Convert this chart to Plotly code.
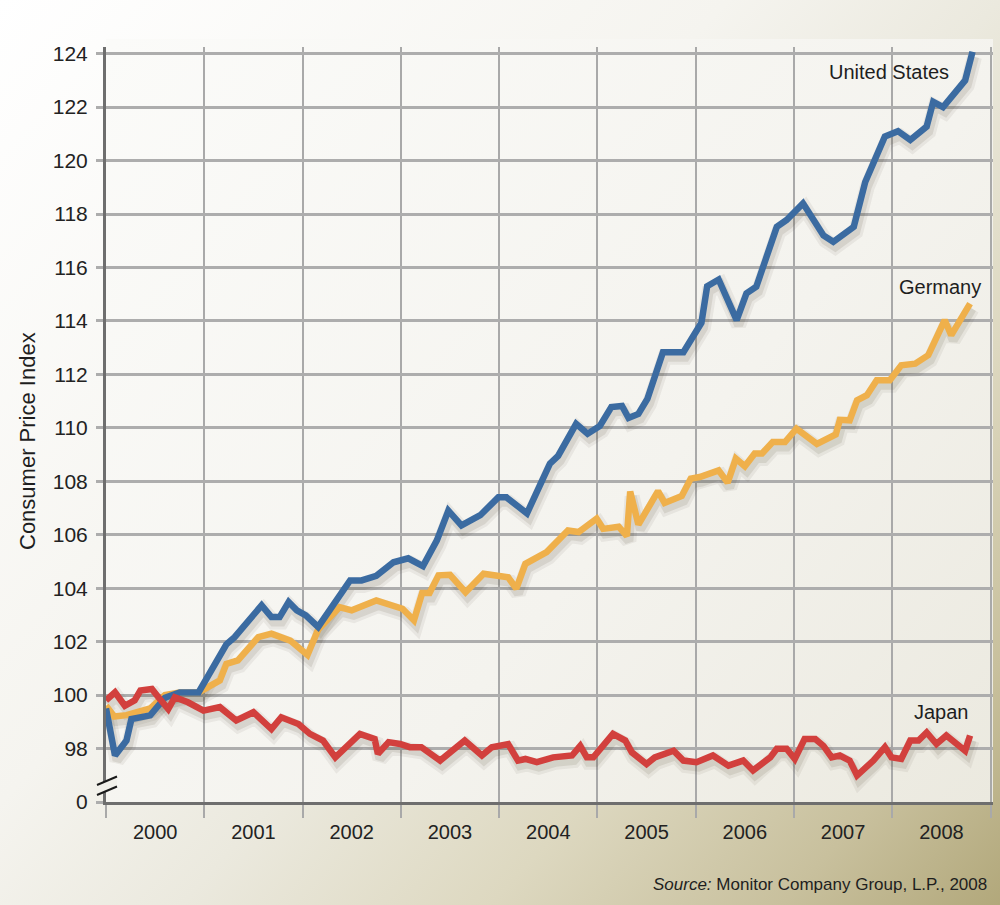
import base64
import plotly.graph_objects as go

# ---------------- data (month offsets from Jan 2000, index values) ----------------
us_month = [0, 1.1, 2.5, 3.1, 5.4, 7.2, 9, 11.3, 14.7, 15.7, 19, 20.2, 21.2, 22.3, 23.3, 24.4,
            25.9, 27.8, 29.8, 31.2, 33, 35.1, 36.9, 38.7, 40.4, 41.8, 43.4, 45.7, 47.9, 48.9,
            51.4, 54.2, 55.2, 57.4, 58.8, 60.3, 61.7, 63.0, 63.8, 65, 66.1, 68, 70.5, 72.7,
            73.4, 74.8, 77, 78.2, 79.4, 81.9, 83.1, 85.1, 87.6, 88.8, 91.3, 92.7, 95.1, 96.7,
            98.2, 100.2, 101, 102.2, 104.9, 105.8]
us_value = [99.5, 97.74, 98.3, 99.1, 99.24, 99.9, 100.1, 100.1, 101.9, 102.17, 103.36, 102.92,
            102.92, 103.48, 103.17, 102.98, 102.55, 103.4, 104.29, 104.29, 104.46, 104.97, 105.12,
            104.83, 105.79, 106.9, 106.35, 106.73, 107.4, 107.4, 106.8, 108.66, 108.95, 110.15,
            109.78, 110.07, 110.78, 110.82, 110.37, 110.52, 111.08, 112.83, 112.83, 113.93,
            115.3, 115.55, 114.03, 115.03, 115.28, 117.52, 117.78, 118.4, 117.2, 116.96, 117.52,
            119.2, 120.9, 121.1, 120.77, 121.27, 122.2, 122.0, 123.0, 124.07]

de_month = [0, 1, 2.5, 5.4, 7.2, 9, 11.3, 13.9, 14.7, 16.1, 18.6, 20.2, 22.5, 24.6, 25.9, 28.5,
            30, 33, 36.2, 37.6, 38.6, 39.5, 40.6, 42, 43.9, 46.1, 49.1, 50.1, 51.2, 53.8, 56.4,
            57.7, 59.9, 60.7, 62.6, 63.6, 64, 65, 67.4, 68.2, 70.3, 71.4, 72.5, 74.8, 75.9, 76.9,
            78, 79.2, 80.1, 81.4, 82.9, 84.3, 86.8, 89.1, 89.6, 90.8, 91.7, 92.9, 94.1, 95.7,
            97.1, 98.8, 100.4, 102.4, 103.2, 105.5]
de_value = [99.6, 99.2, 99.25, 99.5, 100.0, 100.1, 100.1, 100.55, 101.17, 101.3, 102.17, 102.3,
            102.04, 101.5, 102.45, 103.29, 103.17, 103.54, 103.23, 102.8, 103.82, 103.82, 104.48,
            104.5, 103.85, 104.54, 104.41, 103.98, 104.91, 105.35, 106.16, 106.1, 106.6, 106.22,
            106.3, 105.95, 107.62, 106.38, 107.63, 107.19, 107.45, 108.1, 108.16, 108.41, 107.95,
            108.85, 108.56, 109.04, 109.04, 109.47, 109.47, 109.97, 109.4, 109.75, 110.3, 110.28,
            111.03, 111.22, 111.78, 111.78, 112.34, 112.4, 112.72, 114.03, 113.47, 114.65]

jp_month = [0, 1.1, 2.3, 3.5, 4.2, 5.6, 6.4, 7.6, 8.4, 10, 11.9, 13.9, 15.9, 18, 20.2, 21.4,
            23.5, 24.9, 26.5, 28, 31, 32.8, 33.2, 34.5, 35.9, 37.1, 38.5, 40.8, 43.8, 45.9, 47.1,
            49.1, 50.3, 51.2, 52.6, 54.6, 56.9, 57.9, 58.7, 59.5, 61.9, 63.4, 64.2, 66, 67, 69.3,
            70.5, 72.1, 74.1, 76, 77.8, 79, 81.1, 81.9, 83.1, 84.1, 85.3, 86.6, 87.6, 88.6, 89.6,
            90.8, 91.7, 93.7, 95.1, 95.9, 97.1, 98.2, 99.2, 100.2, 101.4, 102.6, 104.9, 105.5]
jp_value = [99.8, 100.1, 99.6, 99.8, 100.17, 100.23, 99.92, 99.48, 99.92, 99.73, 99.42, 99.55,
            99.05, 99.36, 98.73, 99.17, 98.92, 98.55, 98.3, 97.67, 98.55, 98.36, 97.8, 98.24,
            98.17, 98.05, 98.05, 97.55, 98.3, 97.74, 98.05, 98.17, 97.55, 97.61, 97.49, 97.67,
            97.74, 98.1, 97.67, 97.67, 98.55, 98.3, 97.86, 97.42, 97.67, 97.92, 97.55, 97.49,
            97.74, 97.36, 97.55, 97.18, 97.67, 97.99, 97.99, 97.61, 98.36, 98.36, 98.1, 97.67,
            97.74, 97.55, 96.99, 97.55, 98.05, 97.67, 97.61, 98.3, 98.3, 98.6, 98.17, 98.49,
            97.92, 98.49]

year_labels = ["2000", "2001", "2002", "2003", "2004", "2005", "2006", "2007", "2008"]
year_label_pos = [6, 18, 30, 42, 54, 66, 78, 90, 102]
year_bounds = [0, 12, 24, 36, 48, 60, 72, 84, 96, 108]
y_tick_vals = [96, 98, 100, 102, 104, 106, 108, 110, 112, 114, 116, 118, 120, 122, 124]
y_tick_text = ["0", "98", "100", "102", "104", "106", "108", "110", "112", "114", "116",
               "118", "120", "122", "124"]

series = [
    ("Germany", de_month, de_value, "#efb04b"),
    ("United States", us_month, us_value, "#3b6ba1"),
    ("Japan", jp_month, jp_value, "#d2403d"),
]

# ---------------- geometry ----------------
W, H = 1000, 905
ML, MR, MT, MB = 106, 7, 47, 103
XR = [0, 108.3]
YR = [96, 124.25]
pw = W - ML - MR
ph = H - MT - MB
px_per_x = pw / (XR[1] - XR[0])
px_per_y = ph / (YR[1] - YR[0])


def px2paper(px, py):
    return (px - ML) / pw, (H - MB - py) / ph


FONT = "Liberation Sans, Arial, Helvetica, sans-serif"

# ---------------- background (svg gradient as layout image) ----------------
svg = f'''<svg xmlns="http://www.w3.org/2000/svg" width="{W}" height="{H}" viewBox="0 0 {W} {H}" preserveAspectRatio="none">
<defs>
<linearGradient id="g" x1="0" y1="0" x2="{W}" y2="{H}" gradientUnits="userSpaceOnUse">
<stop offset="0" stop-color="#ffffff"/>
<stop offset="0.4" stop-color="#f5f4ef"/>
<stop offset="0.55" stop-color="#ebe9de"/>
<stop offset="0.72" stop-color="#ddd8c0"/>
<stop offset="0.88" stop-color="#c8c09d"/>
<stop offset="1" stop-color="#b2a87b"/>
</linearGradient>
<linearGradient id="p" x1="{ML}" y1="{MT}" x2="{W-MR}" y2="{H-MB}" gradientUnits="userSpaceOnUse">
<stop offset="0" stop-color="#fbfbf9"/>
<stop offset="0.6" stop-color="#f4f3ee"/>
<stop offset="1" stop-color="#ebe9df"/>
</linearGradient>
</defs>
<rect x="0" y="0" width="{W}" height="{H}" fill="url(#g)"/>
<rect x="{ML}" y="{MT-8}" width="{W-ML-MR}" height="{H-MB-MT+8}" fill="url(#p)"/>
</svg>'''
src = "data:image/svg+xml;base64," + base64.b64encode(svg.encode()).decode()

fig = go.Figure()

# shadows drawn on shifted overlay axes (x2/y2)
for name, xs, ys, col in series:
    fig.add_trace(go.Scatter(x=xs, y=ys, mode="lines", xaxis="x2", yaxis="y2",
                             line=dict(color="rgba(70,60,40,0.07)", width=15),
                             hoverinfo="skip", showlegend=False))
    fig.add_trace(go.Scatter(x=xs, y=ys, mode="lines", xaxis="x2", yaxis="y2",
                             line=dict(color="rgba(70,60,40,0.11)", width=9),
                             hoverinfo="skip", showlegend=False))
# main lines on overlay axes x3/y3 (same scale as base)
for name, xs, ys, col in series:
    fig.add_trace(go.Scatter(x=xs, y=ys, mode="lines", name=name, xaxis="x3", yaxis="y3",
                             line=dict(color=col, width=6.5), showlegend=False))

dx, dy = 2.0, 5.0  # shadow offset in pixels
fig.update_layout(
    width=W, height=H,
    margin=dict(l=ML, r=MR, t=MT, b=MB),
    paper_bgcolor="#ffffff",
    plot_bgcolor="rgba(0,0,0,0)",
    font=dict(family=FONT, color="#222222"),
    showlegend=False,
    xaxis=dict(
        range=XR, tickmode="array", tickvals=year_label_pos, ticktext=year_labels,
        ticks="", showgrid=False, zeroline=False,
        showline=True, linecolor="#6e6e6e", linewidth=3,
        tickfont=dict(size=20, color="#222222", family=FONT),
        ticklabelstandoff=10,
        minor=dict(tickmode="array", tickvals=year_bounds, showgrid=True,
                   gridcolor="#a9a9a9", gridwidth=1.5, ticks="outside",
                   ticklen=13, tickcolor="#a9a9a9", tickwidth=1.5),
    ),
    yaxis=dict(
        range=YR, tickmode="array", tickvals=y_tick_vals, ticktext=y_tick_text,
        ticks="outside", ticklen=7, tickcolor="#adadad", tickwidth=2.5,
        showgrid=True, gridcolor="#adadad", gridwidth=2.5, zeroline=False,
        showline=True, linecolor="#6e6e6e", linewidth=3,
        tickfont=dict(size=21, color="#222222", family=FONT),
        ticklabelstandoff=4,
    ),
    xaxis2=dict(overlaying="x", range=[XR[0] - dx / px_per_x, XR[1] - dx / px_per_x],
                visible=False),
    yaxis2=dict(overlaying="y", range=[YR[0] + dy / px_per_y, YR[1] + dy / px_per_y],
                visible=False),
    xaxis3=dict(overlaying="x", range=XR, visible=False),
    yaxis3=dict(overlaying="y", range=YR, visible=False),
)

x0p, y0p = px2paper(0, 0)
fig.add_layout_image(dict(source=src, xref="paper", yref="paper", x=x0p, y=y0p,
                          sizex=W / pw, sizey=H / ph, xanchor="left", yanchor="top",
                          sizing="stretch", layer="below"))

# axis break marks
bx0, by0 = px2paper(97, 785)
bx1, by1 = px2paper(117, 776.5)
bx2, by2 = px2paper(97, 795)
bx3, by3 = px2paper(117, 786.5)
fig.add_shape(type="path", xref="paper", yref="paper",
              path=f"M {bx0},{by0} L {bx1},{by1} L {bx3},{by3} L {bx2},{by2} Z",
              fillcolor="#f1f0ea", line=dict(width=0), layer="above")
fig.add_shape(type="line", xref="paper", yref="paper", x0=bx0, y0=by0, x1=bx1, y1=by1,
              line=dict(color="#1a1a1a", width=2), layer="above")
fig.add_shape(type="line", xref="paper", yref="paper", x0=bx2, y0=by2, x1=bx3, y1=by3,
              line=dict(color="#1a1a1a", width=2), layer="above")

# labels
fig.add_annotation(x=103.2, y=123.33, xref="x", yref="y", text="United States",
                   showarrow=False, xanchor="right", yanchor="middle",
                   font=dict(size=20, color="#1e1e1e", family=FONT))
fig.add_annotation(x=107.1, y=115.27, xref="x", yref="y", text="Germany",
                   showarrow=False, xanchor="right", yanchor="middle",
                   font=dict(size=20, color="#1e1e1e", family=FONT))
fig.add_annotation(x=105.6, y=99.35, xref="x", yref="y", text="Japan",
                   showarrow=False, xanchor="right", yanchor="middle",
                   font=dict(size=20, color="#1e1e1e", family=FONT))

tx, ty = px2paper(28, 441)
fig.add_annotation(x=tx, y=ty, xref="paper", yref="paper", text="Consumer Price Index",
                   textangle=-90, showarrow=False, xanchor="center", yanchor="middle",
                   font=dict(size=22, color="#1e1e1e", family=FONT))

sx, sy = px2paper(989, 884)
fig.add_annotation(x=sx, y=sy, xref="paper", yref="paper",
                   text="<i>Source:</i> Monitor Company Group, L.P., 2008",
                   showarrow=False, xanchor="right", yanchor="middle",
                   font=dict(size=17, color="#1e1e1e", family=FONT))

fig.write_html("out.html", config={"displayModeBar": False}, post_script=(
    "document.body.style.margin='0';document.body.style.padding='0';"
    "document.body.style.overflow='hidden';"))
